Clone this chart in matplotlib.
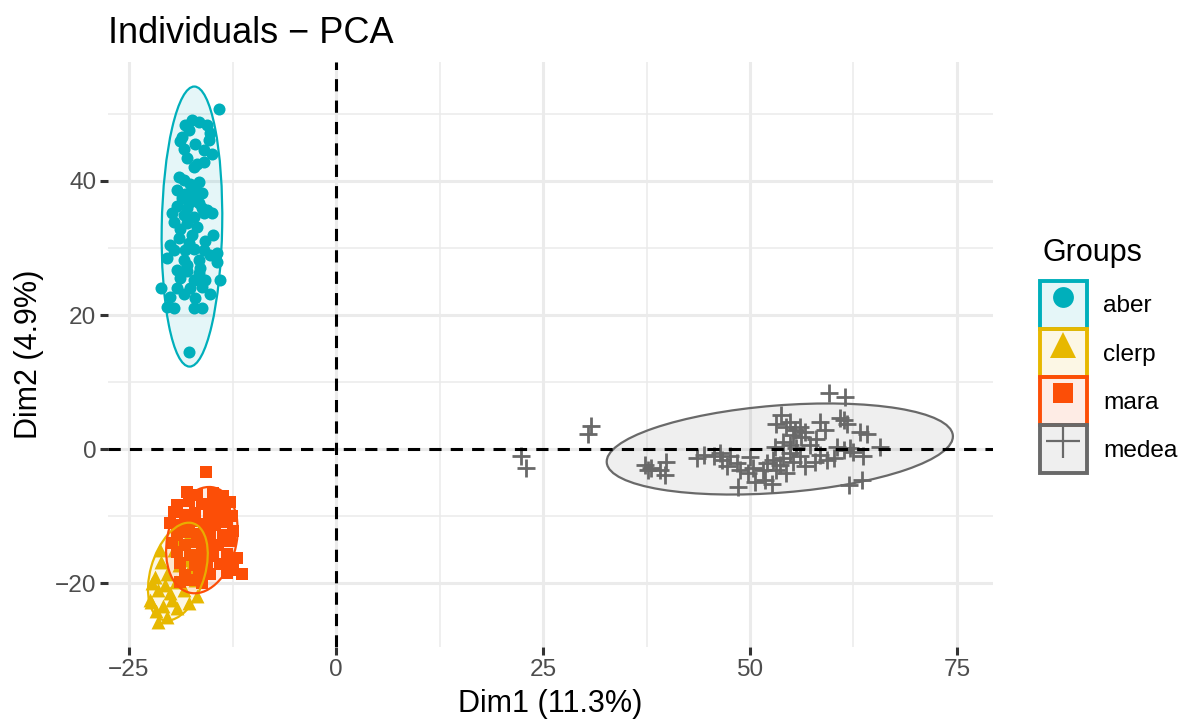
import matplotlib.pyplot as plt
import numpy as np
from matplotlib.patches import Ellipse, Patch
from matplotlib.lines import Line2D
from matplotlib.legend_handler import HandlerTuple
from matplotlib.colors import to_rgba

plt.rcParams['font.family'] = ['Liberation Sans', 'DejaVu Sans']

groups = ['aber', 'clerp', 'mara', 'medea']
colors = ['#00AFBB', '#E7B800', '#FC4E07', '#696969']
markers = ['o', '^', 's', '+']

# Individuals (Dim1, Dim2)
aber_x = [-14.1, -18.2, -17.4, -16.6, -15.6, -15.2, -18.6, -17.8, -18.8, -15.4,
          -16.0, -18.0, -16.8, -16.0, -17.2, -19.0, -18.4, -17.6, -16.6, -19.2,
          -17.2, -16.2, -18.6, -17.6, -16.6, -19.2, -18.0, -19.8, -15.6, -18.4,
          -17.2, -16.0, -15.0, -19.6, -18.0, -16.8, -18.8, -14.8, -20.0, -19.6,
          -20.4, -18.2, -17.2, -16.0, -15.2, -14.4, -18.4, -16.6, -14.4, -19.2,
          -18.0, -16.6, -18.8, -17.2, -15.8, -14.0, -21.1, -19.2, -17.6, -16.2,
          -18.4, -15.2, -20.0, -17.0, -20.4, -19.6, -17.2, -16.2, -17.8,
          -17.0, -18.2, -16.2, -17.4, -19.0, -15.8, -17.8, -16.4, -18.0, -17.0, -18.4, -15.0]
aber_y = [50.7, 48.4, 49.1, 48.8, 48.4, 47.1, 46.6, 47.6, 45.9, 46.1,
          44.6, 43.4, 42.6, 42.9, 42.1, 40.6, 40.1, 39.6, 39.9, 38.6,
          38.6, 38.2, 37.4, 36.9, 36.7, 36.2, 35.9, 35.2, 35.7, 34.9,
          34.7, 35.2, 35.2, 33.9, 33.7, 33.2, 32.9, 31.9, 30.4, 29.7,
          28.5, 29.7, 29.9, 29.7, 28.9, 29.2, 28.2, 28.2, 27.9, 26.7,
          26.5, 26.2, 25.5, 25.2, 25.2, 25.2, 24.0, 24.0, 24.0, 24.2,
          23.2, 23.2, 22.7, 22.5, 21.2, 21.0, 21.0, 21.0, 14.5,
          37.5, 38.0, 36.0, 32.0, 31.5, 31.0, 30.8, 27.0, 27.5, 45.5, 44.8, 44.0]

clerp_x = [-21.5, -20.4, -22.3, -20.9, -19.2, -17.8, -16.8, -21.5, -20.0, -18.4,
           -21.9, -20.4, -19.0, -18.0, -21.1, -19.6, -18.8, -17.6, -21.2, -18.8,
           -22.5, -22.2, -17.0, -17.8, -16.5, -20.6, -19.3, -21.8, -19.8]
clerp_y = [-25.8, -25.0, -22.8, -23.5, -23.8, -23.0, -22.0, -21.0, -21.5, -21.0,
           -19.1, -18.6, -17.3, -16.6, -16.8, -15.1, -13.6, -12.6, -15.1, -11.5,
           -22.5, -20.0, -19.5, -18.0, -16.0, -20.3, -19.8, -24.2, -22.6]

mara_x = [-15.7,
          -18.0, -16.8, -14.8, -13.6,
          -19.2, -17.8, -16.2, -14.8, -13.4, -12.8,
          -19.6, -18.2, -17.0, -15.4, -14.0, -12.6,
          -20.0, -18.6, -17.2, -16.0, -14.6, -13.2,
          -19.2, -17.8, -16.6, -15.2, -13.6, -12.4,
          -19.8, -18.2, -16.8, -15.6, -14.2, -12.8,
          -19.2, -17.6, -16.2, -14.8, -13.2, -12.0,
          -18.8, -17.0, -15.6, -14.0, -12.6,
          -18.2, -16.6, -15.2, -13.2, -12.4, -11.4,
          -18.8, -17.4, -16.2]
mara_y = [-3.5,
          -6.4, -6.9, -6.5, -7.0,
          -8.3, -7.8, -8.2, -8.0, -8.4, -7.9,
          -9.4, -9.8, -9.5, -9.9, -9.6, -10.0,
          -11.0, -11.3, -10.8, -11.2, -11.4, -10.9,
          -12.8, -12.4, -12.7, -12.5, -12.9, -12.3,
          -14.0, -14.3, -13.9, -14.2, -14.4, -13.8,
          -15.4, -15.8, -15.5, -15.9, -15.6, -16.3,
          -17.0, -17.3, -16.9, -17.2, -17.4,
          -18.8, -18.4, -18.7, -18.5, -18.1, -18.6,
          -19.9, -19.6, -20.0]

medea_x = [22.4, 23.0, 30.8, 30.4,
           37.3, 38.1, 39.1, 39.9, 39.7, 37.7,
           43.6, 44.4, 45.6, 46.4, 46.6, 47.6,
           48.4, 48.8, 48.6, 49.8, 50.4, 50.6, 51.6, 51.8, 52.0, 52.8, 53.2, 53.6,
           54.0, 54.4, 54.8, 55.2, 56.0, 56.6,
           53.2, 53.8, 54.4, 54.8, 55.4, 55.2, 56.0, 56.2, 56.6, 54.0, 54.8, 57.2, 55.6,
           58.5, 59.1, 59.5, 61.5, 60.9, 61.3, 61.7, 60.5, 61.3, 62.1, 62.5, 63.3, 64.1,
           63.7, 65.7, 58.5, 59.3, 60.1, 61.9, 63.5,
           52.6, 50.0, 47.2, 57.8, 58.0, 53.0]
medea_y = [-1.1, -2.9, 3.5, 2.2,
           -2.4, -2.9, -3.1, -1.9, -3.9, -3.1,
           -1.4, -0.9, -1.1, -0.6, -1.6, -1.1,
           -2.1, -3.1, -5.6, -3.6, -2.9, -4.9, -3.1, -4.6, -2.1, -1.6, -3.1, -2.4,
           -1.4, -3.6, -0.6, -1.9, -1.1, -2.6,
           3.8, 5.1, 3.3, 4.1, 2.8, 2.1, 3.3, 1.8, 2.6, 1.1, 0.6, 0.6, 0.1,
           4.1, 2.8, 8.4, 7.8, 4.6, 4.3, 3.8, 0.3, -0.1, 0.1, -0.4, 2.6, 2.3,
           -1.1, 0.35, -0.9, -1.6, -1.4, -5.4, -4.6,
           -5.2, -1.2, -2.6, -2.0, 1.5, 0.3]

# concentration ellipses: centre, full axes lengths, angle (data space)
ell_cx = [-17.4, -19.1, -16.2, 53.6]
ell_cy = [33.2, -18.3, -13.6, 0.0]
ell_major = [41.8, 14.9, 16.0, 42.0]
ell_minor = [7.3, 6.6, 8.4, 13.0]
ell_angle = [89.2, 77.3, 81.3, 5.7]

xs = [aber_x, clerp_x, mara_x, medea_x]
ys = [aber_y, clerp_y, mara_y, medea_y]
sizes = [75, 100, 80, 180]
leg_sizes = [15, 19, 14, 24]

fig, ax = plt.subplots(figsize=(11.82, 7.21), dpi=100)
fig.subplots_adjust(left=108/1182, right=993/1182, bottom=1-647/721, top=1-62/721)

for i, g in enumerate(groups):
    if markers[i] == '+':
        ax.scatter(xs[i], ys[i], marker='+', s=sizes[i], color=colors[i],
                   linewidths=2.0, zorder=3)
    else:
        ax.scatter(xs[i], ys[i], marker=markers[i], s=sizes[i], color=colors[i],
                   linewidths=0, zorder=3)

for i, g in enumerate(groups):
    ax.add_patch(Ellipse((ell_cx[i], ell_cy[i]), ell_major[i], ell_minor[i],
                         angle=ell_angle[i], facecolor=to_rgba(colors[i], 0.1),
                         edgecolor=colors[i], lw=1.6, zorder=4))

ax.axhline(0, color='black', lw=2.2, ls=(0, (4, 3)), zorder=5)
ax.axvline(0, color='black', lw=2.2, ls=(0, (4, 3)), zorder=5)

ax.set_xlim(-27.54, 79.35)
ax.set_ylim(-29.55, 57.76)
ax.set_xticks([-25, 0, 25, 50, 75])
ax.set_xticks([-12.5, 12.5, 37.5, 62.5], minor=True)
ax.set_yticks([-20, 0, 20, 40])
ax.set_yticks([-10, 10, 30, 50], minor=True)
ax.grid(which='major', color='#EBEBEB', lw=2.2)
ax.grid(which='minor', color='#EBEBEB', lw=1.1)
ax.set_axisbelow(True)
for s in ax.spines.values():
    s.set_visible(False)
ax.tick_params(which='major', length=5.5, width=2.2, color='#333333',
               labelcolor='#4D4D4D', labelsize=17.6, pad=3)
ax.tick_params(which='minor', length=0)

ax.set_xlabel('Dim1 (11.3%)', fontsize=22, labelpad=6)
ax.set_ylabel('Dim2 (4.9%)', fontsize=22, labelpad=8)
ax.set_title('Individuals − PCA', loc='left', fontsize=26, pad=14)

handles = []
for i, g in enumerate(groups):
    box = Patch(facecolor=to_rgba(colors[i], 0.1), edgecolor=colors[i], lw=2.8)
    mk = Line2D([], [], marker=markers[i], color=colors[i], ls='none',
                markersize=leg_sizes[i], markeredgewidth=1.6 if markers[i] == '+' else 0)
    handles.append((box, mk))

ax.legend(handles, groups, handler_map={tuple: HandlerTuple(ndivide=1, pad=0)},
          loc='upper left', bbox_to_anchor=(1040/1182, 1-281/721),
          bbox_transform=fig.transFigure, frameon=False, fontsize=17.6,
          handlelength=1.92, handleheight=2.65, labelspacing=0,
          handletextpad=0.65, borderpad=0, borderaxespad=0)
fig.text(1042/1182, 1-253/721, 'Groups', fontsize=22, va='center', ha='left')

plt.savefig('out.png', dpi=100)
